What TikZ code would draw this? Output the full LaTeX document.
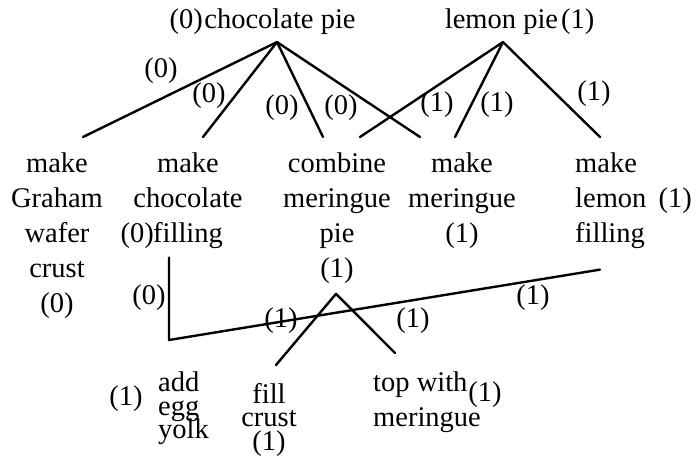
\documentclass[tikz,border=0pt]{standalone}
\usepackage{fontspec}
\setmainfont{Liberation Serif}
\newcommand\tightls{\lineskiplimit=-50pt\relax}
\begin{document}
\begin{tikzpicture}[x=1pt,y=-1pt,
  txt/.style={font={\fontsize{28.5}{35}\selectfont\tightls}, inner sep=0pt, align=center},
  tight/.style={font={\fontsize{28.5}{23.5}\selectfont\tightls}, inner sep=0pt, align=center},
  num/.style={font=\fontsize{28.5}{34}\selectfont, inner sep=0pt},
  edge/.style={line width=2.4pt, line cap=round, line join=round}]
\useasboundingbox (0,0) rectangle (696,456);
% top nodes
\node[txt, anchor=base] (choc) at (280,28) {chocolate pie};
\node[num, anchor=base east] (chocn) at (203,28) {(0)};
\node[txt, anchor=base] (lemon) at (501.5,28) {lemon pie};
\node[num, anchor=base west] (lemonn) at (561,28) {(1)};
% middle nodes
\node[txt, anchor=north] (graham) at (57,152.5) {make\\Graham\\wafer\\crust\\(0)};
\node[txt, anchor=north] (chocfill) at (188,152.5) {make\\chocolate\\filling};
\node[num, anchor=base east] (chocfilln) at (154,242) {(0)};
\node[txt, anchor=north] (combine) at (337,152.5) {combine\\meringue\\pie\\(1)};
\node[txt, anchor=north] (mer) at (462,152.5) {make\\meringue\\(1)};
\node[txt, align=left, anchor=north west] (lemonfill) at (575,152.5) {make\\lemon\\filling};
\node[num, anchor=base east] (lemonfilln) at (692,207) {(1)};
% bottom nodes
\node[tight, align=left, anchor=north west] (addegg) at (158,372) {add\\egg\\yolk};
\node[num] (addeggn) at (126,399) {(1)};
\node[tight, anchor=north] (fillcrust) at (269,383) {fill\\crust\\(1)};
\node[txt, align=left, anchor=north west] (topwith) at (373,372) {top with\\meringue};
\node[num] (topwithn) at (485,395) {(1)};
% connector anchors
\coordinate (chocA) at ([shift={(-3pt,-7.8pt)}]choc.south);
\coordinate (lemonA) at ([shift={(1.5pt,-7.8pt)}]lemon.south);
\coordinate (combA) at ([shift={(-1pt,-10.1pt)}]combine.south);
\coordinate (eggC) at ([shift={(11pt,32pt)}]addegg.north west);
% top connectors
\draw[edge] (chocA) -- ([shift={(26pt,15.5pt)}]graham.north);
\draw[edge] (chocA) -- ([shift={(15pt,15.5pt)}]chocfill.north);
\draw[edge] (chocA) -- ([shift={(-14pt,15.5pt)}]combine.north);
\draw[edge] (chocA) -- ([shift={(-42pt,15.5pt)}]mer.north);
\draw[edge] (lemonA) -- ([shift={(23pt,15.5pt)}]combine.north);
\draw[edge] (lemonA) -- ([shift={(-7pt,15.5pt)}]mer.north);
\draw[edge] (lemonA) -- ([shift={(25pt,15.5pt)}]lemonfill.north west);
% bottom connectors
\draw[edge] ([shift={(-19pt,-8.8pt)}]chocfill.south) -- (eggC) -- ([shift={(25pt,-20.8pt)}]lemonfill.south west);
\draw[edge] (combA) -- ([shift={(7pt,18pt)}]fillcrust.north);
\draw[edge] (combA) -- ([shift={(22pt,19pt)}]topwith.north west);
% connector labels
\node[num] (l1) at (161,71) {(0)};
\node[num] (l2) at (209,96) {(0)};
\node[num] (l3) at (282,108) {(0)};
\node[num] (l4) at (341,108) {(0)};
\node[num] (l5) at (437,105) {(1)};
\node[num] (l6) at (497,105) {(1)};
\node[num] (l7) at (594,94) {(1)};
\node[num] (l8) at (149,298) {(0)};
\node[num] (l9) at (281,321) {(1)};
\node[num] (l10) at (413,321) {(1)};
\node[num] (l11) at (533,298) {(1)};
\end{tikzpicture}
\end{document}
